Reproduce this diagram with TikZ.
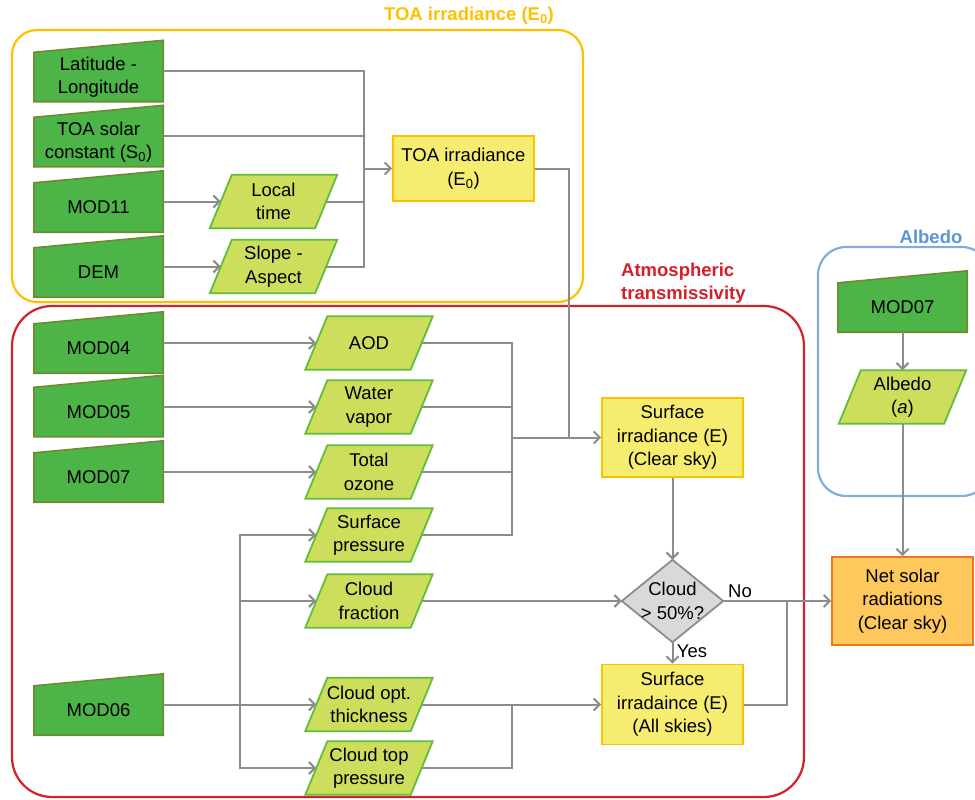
\documentclass[tikz,border=0pt]{standalone}
\usepackage{fontspec}
\setmainfont{Liberation Sans}
\usetikzlibrary{arrows.meta,backgrounds}
\definecolor{dgreen}{RGB}{77,180,72}
\definecolor{dgreenb}{RGB}{112,138,52}
\definecolor{lgreen}{RGB}{204,222,92}
\definecolor{lgreenb}{RGB}{96,190,60}
\definecolor{ybox}{RGB}{246,236,112}
\definecolor{yboxb}{RGB}{255,192,0}
\definecolor{obox}{RGB}{255,200,92}
\definecolor{oboxb}{RGB}{238,120,32}
\definecolor{lgray}{RGB}{140,140,140}
\definecolor{dgray}{RGB}{217,217,217}
\definecolor{framey}{RGB}{255,192,0}
\definecolor{framer}{RGB}{212,32,40}
\definecolor{frameb}{RGB}{130,172,222}
\definecolor{titleb}{RGB}{91,150,212}
\begin{document}
\begin{tikzpicture}[x=1pt,y=-1pt,
 txt/.style={font=\fontsize{18.5}{23.5}\selectfont, align=center, inner sep=0pt},
 ttl/.style={font=\fontsize{18.5}{22.5}\selectfont\bfseries, inner sep=0pt},
 mi/.style={txt, minimum width=129pt, minimum height=49pt},
 para/.style={txt, minimum width=105pt, minimum height=53pt},
 ybx/.style={txt, minimum width=141pt, draw=yboxb, fill=ybox, line width=1.8pt},
 conn/.style={draw=lgray, line width=2pt},
 arr/.style={conn, -{Straight Barb[length=6pt,width=12pt]}},
 mishape/.style={fill=dgreen, draw=dgreenb, line width=1.6pt},
 parashape/.style={fill=lgreen, draw=lgreenb, line width=1.8pt},
 frame/.style={line width=2.2pt}
]
\useasboundingbox (0,0) rectangle (975,800);
\clip (0,0) rectangle (975,800);

% titles
\node[ttl, text=framey] (t1) at (469,16) {TOA irradiance (E\textsubscript{0})};
\node[ttl, text=framer, align=left, anchor=west] (t2) at (621,283) {Atmospheric\\transmissivity};
\node[ttl, text=titleb] (t3) at (931,237) {Albedo};

% upper block
\node[mi] (lat) at (98.5,77) {Latitude -\\Longitude};
\node[mi] (s0) at (98.5,142) {TOA solar\\constant (S\textsubscript{0})};
\node[mi] (m11) at (98.5,207.5) {MOD11};
\node[mi] (dem) at (98.5,272.5) {DEM};
\node[para] (lt) at (273.5,201.5) {Local\\time};
\node[para] (slope) at (273.5,266.5) {Slope -\\Aspect};
\node[ybx, minimum height=65pt] (toa) at (463.5,168.5) {TOA irradiance\\(E\textsubscript{0})};

% lower block
\node[mi] (m04) at (98.5,348.5) {MOD04};
\node[mi] (m05) at (98.5,412) {MOD05};
\node[mi] (m07) at (98.5,477.5) {MOD07};
\node[mi] (m06) at (98.5,710.5) {MOD06};
\node[para] (aod) at (369,343) {AOD};
\node[para] (wv) at (369,407) {Water\\vapor};
\node[para] (oz) at (369,472) {Total\\ozone};
\node[para] (sp) at (369,535) {Surface\\pressure};
\node[para] (cf) at (369,601) {Cloud\\fraction};
\node[para] (cot) at (369,704.5) {Cloud opt.\\thickness};
\node[para] (ctp) at (369,768) {Cloud top\\pressure};
\node[ybx, minimum height=79pt] (clear) at (672.5,437.5) {Surface\\irradiance (E)\\(Clear sky)};
\node[txt, minimum width=101pt, minimum height=82pt] (dia) at (672.5,601) {Cloud\\> 50\%?};
\node[ybx, minimum height=80pt] (all) at (672.5,704.5) {Surface\\irradaince (E)\\(All skies)};

% albedo block
\node[mi] (am07) at (902.5,307.5) {MOD07};
\node[para] (alb) at (902.5,397) {Albedo\\(\textit{a})};
\node[ybx, minimum height=88pt, fill=obox, draw=oboxb] (net) at (902.5,601) {Net solar\\radiations\\(Clear sky)};

\node[txt] (no) at (740,591) {No};
\node[txt] (yes) at (692,651) {Yes};

\begin{scope}[on background layer]
 \draw[frame, framey, rounded corners=25pt] (12,30) rectangle (583,302);
 \draw[frame, framer, rounded corners=40pt] (12,306) rectangle (804,797);
 \draw[frame, frameb, rounded corners=28pt] (818,247) rectangle (990,496);
 \foreach \n in {lat,s0,m11,dem,m04,m05,m07,m06,am07}
   \draw[mishape] (\n.south west) -- (\n.south east) -- ([yshift=12pt]\n.north east) -- (\n.north west) -- cycle;
 \foreach \n in {lt,slope,aod,wv,oz,sp,cf,cot,ctp,alb}
   \draw[parashape] ([xshift=-11pt]\n.south west) -- ([xshift=11pt]\n.north west) -- ([xshift=11pt]\n.north east) -- ([xshift=-11pt]\n.south east) -- cycle;
 \draw[fill=dgray, draw=lgray, line width=1.8pt] (dia.north) -- (dia.east) -- (dia.south) -- (dia.west) -- cycle;
\end{scope}

% junctions
\coordinate (j1) at (364,168.5);
\coordinate (j2) at (569,0 |- clear.west);
\coordinate (j3) at (512,0 |- clear.west);
\coordinate (j4) at (240,0 |- cot.west);
\coordinate (j5) at (787,0 |- dia.east);
\coordinate (j6) at (512,0 |- cot.east);

% upper connectors
\draw[conn] ([yshift=6pt]lat.east) -| (j1);
\draw[conn] ([yshift=6pt]s0.east) -| (j1);
\draw[conn] (lt.east) -| (j1);
\draw[conn] (slope.east) -| (j1);
\draw[arr] (j1) -- (toa.west);
\draw[arr] (lt.west -| m11.east) -- (lt.west);
\draw[arr] (slope.west -| dem.east) -- (slope.west);
\draw[conn] (toa.east) -| (j2);

% lower connectors
\draw[arr] (aod.west -| m04.east) -- (aod.west);
\draw[arr] (wv.west -| m05.east) -- (wv.west);
\draw[arr] (oz.west -| m07.east) -- (oz.west);
\draw[conn] (aod.east) -| (j3);
\draw[conn] (wv.east) -| (j3);
\draw[conn] (oz.east) -| (j3);
\draw[conn] (sp.east) -| (j3);
\draw[arr] (j3) -- (clear.west);
\draw[arr] (cot.west -| m06.east) -- (cot.west);
\draw[arr] (j4) |- (sp.west);
\draw[arr] (j4) |- (cf.west);
\draw[arr] (j4) |- (ctp.west);
\draw[arr] (cf.east) -- (dia.west);
\draw[arr] (clear.south) -- (dia.north);
\draw[arr] (dia.south) -- (all.north);
\draw[arr] (dia.east) -- (net.west);
\draw[conn] (all.east) -| (j5);
\draw[arr] (cot.east) -- (all.west);
\draw[conn] (ctp.east) -| (j6);
\draw[arr] (am07.south) -- (alb.north);
\draw[arr] (alb.south) -- (net.north);
\end{tikzpicture}
\end{document}
